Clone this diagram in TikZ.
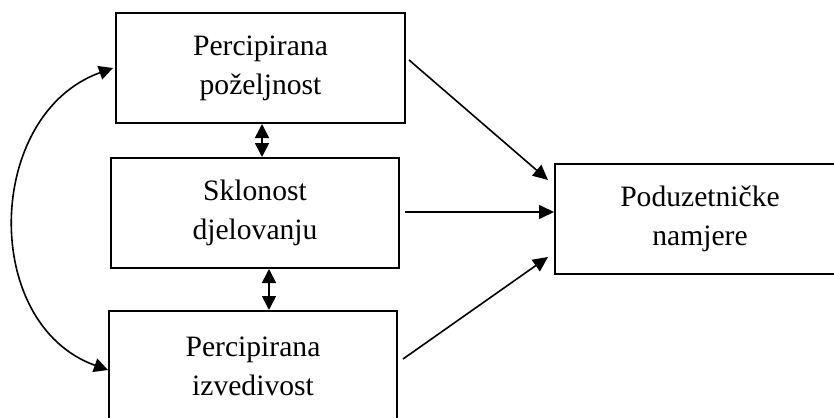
\documentclass[tikz,border=0pt]{standalone}
\usepackage{fontspec}
\setmainfont{Liberation Serif}
\usetikzlibrary{arrows.meta}
\begin{document}
\begin{tikzpicture}[x=0.5pt,y=-0.5pt,
  box/.style={draw,line width=1pt,rectangle,inner sep=0pt,minimum height=55pt,align=center,
    font=\fontsize{14.8pt}{19.5pt}\selectfont},
  conn/.style={line width=0.8pt,-{Triangle[length=7.5pt,width=7pt]}},
  dconn/.style={line width=0.8pt,{Triangle[length=7pt,width=7pt]}-{Triangle[length=7pt,width=7pt]}}]
\useasboundingbox (0,0) rectangle (834,417);
\clip (0,0) rectangle (834,417);
% boxes
\node[box,minimum width=144.5pt] (b1) at (260.5,68) {Percipirana\\poželjnost};
\node[box,minimum width=144pt] (b2) at (255,213) {Sklonost\\djelovanju};
\node[box,minimum width=144pt] (b3) at (253,366) {Percipirana\\izvedivost};
\node[box,minimum width=145pt] (b4) at (700,219) {Poduzetničke\\namjere};
% connector end points
\coordinate (s1) at (409,60);
\coordinate (t1) at (548,180);
\coordinate (s2) at (405,212);
\coordinate (s3) at (403,359);
\coordinate (t3) at (548,257);
\coordinate (d1) at (262,0);
\coordinate (d2) at (269,0);
\coordinate (c1) at (113,68);
\coordinate (c3) at (108,370);
% arrows to intentions
\draw[conn] (s1) -- (t1);
\draw[conn] (s2) -- (s2 -| b4.west);
\draw[conn] (s3) -- (t3);
% double arrows
\draw[dconn] (b1.south -| d1) -- (b2.north -| d1);
\draw[dconn] (b2.south -| d2) -- (b3.north -| d2);
% curved double arrow
\draw[dconn] (c1) .. controls (-15,114) and (-20,324) .. (c3);
\end{tikzpicture}
\end{document}
